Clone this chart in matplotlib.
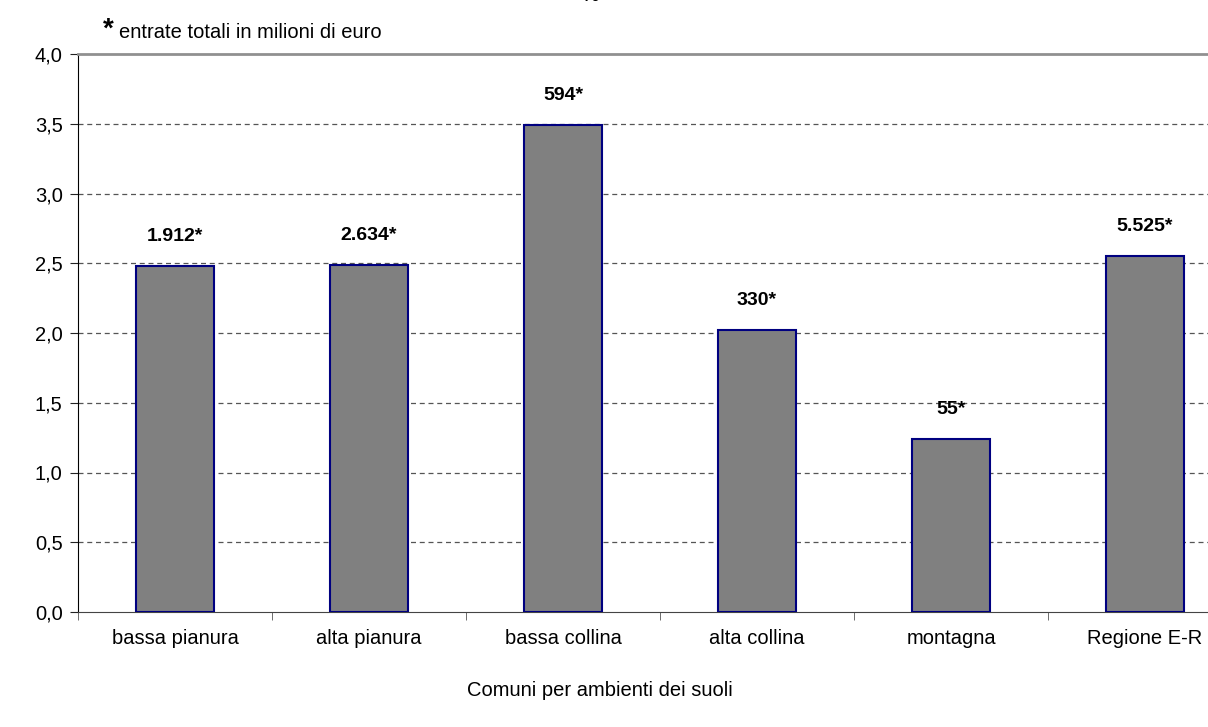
import matplotlib
matplotlib.use("Agg")
import matplotlib.pyplot as plt
from matplotlib.ticker import FixedLocator

plt.rcParams['font.family'] = ['Liberation Sans', 'DejaVu Sans']

categories = ["bassa pianura", "alta pianura", "bassa collina", "alta collina", "montagna", "Regione E-R"]
values = [2.48, 2.49, 3.49, 2.02, 1.24, 2.55]
labels = ["1.912*", "2.634*", "594*", "330*", "55*", "5.525*"]
yticks = [0.0, 0.5, 1.0, 1.5, 2.0, 2.5, 3.0, 3.5, 4.0]

W, H = 1208, 727
fig = plt.figure(figsize=(W / 100, H / 100), dpi=100)
left, right, top, bottom = 78, 1242, 54, 612
ax = fig.add_axes([left / W, 1 - bottom / H, (right - left) / W, (bottom - top) / H])

x = list(range(len(categories)))
ax.bar(x, values, width=0.4, color="#808080", edgecolor="#000080", linewidth=1.5, zorder=3)
for xi, v, lab in zip(x, values, labels):
    ax.text(xi, v + 0.15, lab, ha="center", va="bottom", fontsize=14, fontweight="bold")

ax.set_xlim(-0.5, 5.5)
ax.set_ylim(0, 4.0)
ax.set_yticks(yticks)
ax.set_yticklabels([f"{t:.1f}".replace(".", ",") for t in yticks], fontsize=14.5)
ax.set_xticks(x)
ax.set_xticklabels(categories, fontsize=14.5)
ax.tick_params(axis="x", which="major", length=0, pad=12)
ax.xaxis.set_minor_locator(FixedLocator([i - 0.5 for i in range(len(categories) + 1)]))
ax.tick_params(axis="x", which="minor", length=6, color="#555555", direction="out")
ax.tick_params(axis="y", length=6, color="#222222", direction="out", pad=5)

for t in yticks[1:-1]:
    ax.axhline(t, color="#555555", linestyle=(0, (4, 3)), linewidth=0.9, zorder=1)

ax.spines["top"].set_color("#909090")
ax.spines["top"].set_linewidth(2)
ax.spines["right"].set_visible(False)
ax.spines["left"].set_color("#000000")
ax.spines["bottom"].set_color("#444444")

fig.text(600 / W, 1 - 690 / H, "Comuni per ambienti dei suoli", ha="center", va="center", fontsize=14.5)
fig.text(108 / W, 1 - 30 / H, "*", ha="center", va="center", fontsize=20, fontweight="bold")
fig.text(119 / W, 1 - 32 / H, "entrate totali in milioni di euro", ha="left", va="center", fontsize=14.5)
fig.text(590 / W, 1 + 3 / H, "%", ha="center", va="center", fontsize=14, fontweight="bold")

fig.savefig("out.png", dpi=100)
